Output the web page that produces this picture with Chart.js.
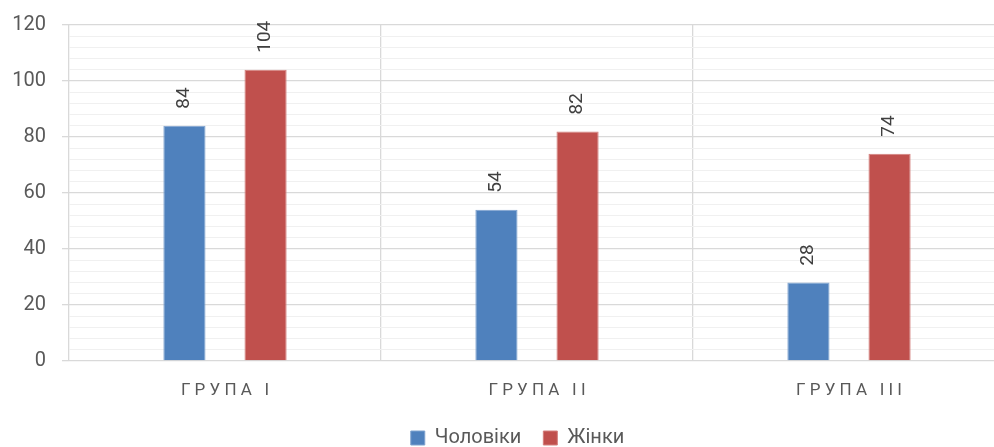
<!DOCTYPE html>
<html>
<head>
<meta charset="utf-8">
<script src="https://cdn.jsdelivr.net/npm/chart.js@4"></script>
<style>
html,body{margin:0;padding:0;background:#fff;overflow:hidden;}
#wrap{width:1034px;height:447px;}
</style>
</head>
<body>
<div id="wrap"><canvas id="c" width="1034" height="447"></canvas></div>
<script>
const categories = ['ГРУПА I', 'ГРУПА II', 'ГРУПА III'];
const seriesNames = ['Чоловіки', 'Жінки'];
const menValues = [84, 54, 28];
const womenValues = [104, 82, 74];
const yTickLabels = [0, 20, 40, 60, 80, 100, 120];

const FONT = 'Roboto, "Noto Sans", sans-serif';

const barLabels = {
  id: 'barLabels',
  afterDatasetsDraw(chart) {
    const ctx = chart.ctx;
    ctx.save();
    ctx.fillStyle = '#404040';
    ctx.font = '19px ' + FONT;
    ctx.textAlign = 'left';
    ctx.textBaseline = 'middle';
    chart.data.datasets.forEach((ds, i) => {
      const meta = chart.getDatasetMeta(i);
      meta.data.forEach((bar, j) => {
        ctx.save();
        ctx.translate(bar.x, bar.y - 17);
        ctx.rotate(-Math.PI / 2);
        ctx.fillText(String(ds.data[j]), 0, 0);
        ctx.restore();
      });
    });
    ctx.restore();
  }
};

// keep the legend box compact, centre it on the full canvas and place it low
const legendShift = {
  id: 'legendShift',
  beforeLayout(chart) {
    const lg = chart.legend;
    if (lg && !lg._compact) {
      const fit = lg.fit;
      lg.fit = function () { fit.call(this); this.height = 41; };
      lg._compact = true;
    }
  },
  afterLayout(chart) {
    const lg = chart.legend;
    if (!lg) return;
    const dx = 15, dy = 406 - lg.top;
    lg.left += dx; lg.right += dx;
    lg.top += dy; lg.bottom += dy;
  }
};

new Chart(document.getElementById('c'), {
  type: 'bar',
  data: {
    labels: categories,
    datasets: [
      { label: seriesNames[0], data: menValues, backgroundColor: '#4F81BD',
        borderColor: '#7FA3CF', borderWidth: 1,
        categoryPercentage: 0.52, barPercentage: 0.52 },
      { label: seriesNames[1], data: womenValues, backgroundColor: '#C0504D',
        borderColor: '#D4807E', borderWidth: 1,
        categoryPercentage: 0.52, barPercentage: 0.52 }
    ]
  },
  options: {
    responsive: false,
    animation: false,
    devicePixelRatio: 1,
    layout: { padding: { top: 25, right: 29, left: 0, bottom: 0 } },
    plugins: {
      tooltip: { enabled: false },
      legend: {
        position: 'bottom',
        labels: {
          boxWidth: 14, boxHeight: 14, padding: 22,
          color: '#595959',
          font: { family: FONT, size: 20 }
        }
      }
    },
    scales: {
      x: {
        offset: true,
        border: { display: false },
        afterFit: (s) => { s.height = 45; },
        grid: { offset: true, color: '#d9d9d9', lineWidth: 1.3, drawTicks: false },
        ticks: {
          color: '#595959', padding: 20,
          font: { family: FONT, size: 17 },
          callback: function (v) { return this.getLabelForValue(v).split('').join(' '); }
        }
      },
      y: {
        min: 0, max: 120,
        border: { display: false },
        afterFit: (s) => { s.width = 69; s.paddingTop = 0; s.paddingBottom = 0; },
        grid: {
          tickLength: 7,
          color: (c) => (c.tick && yTickLabels.includes(c.tick.value)) ? '#d9d9d9' : '#f0f0f0',
          tickColor: (c) => (c.tick && yTickLabels.includes(c.tick.value)) ? '#d9d9d9' : 'rgba(0,0,0,0)',
          lineWidth: (c) => (c.tick && yTickLabels.includes(c.tick.value)) ? 1.3 : 1
        },
        ticks: {
          stepSize: 4, autoSkip: false, padding: 16,
          color: '#595959',
          font: { family: FONT, size: 20 },
          callback: (v) => yTickLabels.includes(v) ? String(v) : ''
        }
      }
    }
  },
  plugins: [barLabels, legendShift]
});
</script>
</body>
</html>
